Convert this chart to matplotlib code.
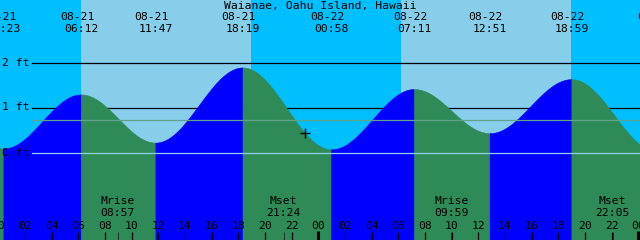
import numpy as np
import matplotlib.pyplot as plt

# tide events: date, time, height (ft)
tide_dates = ["08-20", "08-21", "08-21", "08-21", "08-21", "08-22", "08-22", "08-22", "08-22", "08-23"]
tide_times = ["17:50", "00:23", "06:12", "11:47", "18:19", "00:58", "07:11", "12:51", "18:59", "01:29"]
tide_ft = [1.95, 0.09, 1.29, 0.22, 1.89, 0.07, 1.41, 0.43, 1.63, 0.0]

# sun: daylight spans
sunrise = ["08-21 06:12", "08-22 06:12"]
sunset = ["08-21 18:57", "08-22 18:57"]

# moon events
moon_kind = ["Mrise", "Mset", "Mrise", "Mset"]
moon_dates = ["08-21", "08-21", "08-22", "08-22"]
moon_times = ["08:57", "21:24", "09:59", "22:05"]

now = "08-21 23:00"
datum_levels = [2, 1]
mean_level = 0.72
hour_ticks = list(range(0, 49, 2))
title = "Waianae, Oahu Island, Hawaii"

DAY = "#87CEEB"
NIGHT = "#00BFFF"
RISE = "#0000FF"
FALL = "#2E8B57"
FONT = dict(family="DejaVu Sans Mono", fontsize=8.2, color="black")


def hours(date, time):
    # hours after 08-21 00:00
    day = int(date[-2:]) - 21
    hh, mm = time.split(":")
    return day * 24 + int(hh) + int(mm) / 60


tide_h = [hours(d, t) for d, t in zip(tide_dates, tide_times)]

fig = plt.figure(figsize=(6.4, 2.4), dpi=100, facecolor=NIGHT)
ax = fig.add_axes([0, 0, 1, 1])
x0 = 1.7 / 13.333
ax.set_xlim(x0, x0 + 48)
ax.set_ylim(-87.5 / 45, 152.5 / 45)
ax.axis("off")
xt = ax.get_xaxis_transform()
yt = ax.get_yaxis_transform()


def py(p):
    # pixel row -> axes fraction
    return 1 - p / 240


# night sky over the whole chart, daylight on top
ax.axvspan(x0, x0 + 48, color=NIGHT, lw=0, zorder=0)
for r, s in zip(sunrise, sunset):
    ax.axvspan(hours(*r.split()), hours(*s.split()), color=DAY, lw=0, zorder=0)

# datum lines behind the water
for lev in datum_levels:
    ax.axhline(lev, xmin=32 / 640, color="black", lw=0.9, zorder=1)
    ax.text(2 / 640, lev, f"{lev} ft", transform=yt, ha="left", va="center",
            zorder=5, **FONT)
ax.text(2 / 640, 0, "0 ft", transform=yt, ha="left", va="center", zorder=5, **FONT)

# tide curve, cosine shape between high and low water
bottom = -87.5 / 45
for i in range(len(tide_h) - 1):
    t0, t1 = tide_h[i], tide_h[i + 1]
    h0, h1 = tide_ft[i], tide_ft[i + 1]
    t = np.linspace(t0, t1, 120)
    h = h1 + (h0 - h1) * (1 + np.cos(np.pi * (t - t0) / (t1 - t0))) / 2
    c = RISE if h1 > h0 else FALL
    ax.fill_between(t, h, bottom, color=c, lw=0.4, edgecolor=c, zorder=2)

ax.axhline(0, xmin=32 / 640, color="#8FD0EA", lw=0.9, zorder=3)
ax.axhline(mean_level, xmin=32 / 640, color="#5FA38A", lw=0.9, zorder=3)

# now marker on the curve
tn = hours(*now.split())
k = np.searchsorted(tide_h, tn) - 1
t0, t1, h0, h1 = tide_h[k], tide_h[k + 1], tide_ft[k], tide_ft[k + 1]
hn = h1 + (h0 - h1) * (1 + np.cos(np.pi * (tn - t0) / (t1 - t0))) / 2
ax.plot(tn, hn, marker="+", color="black", ms=6.5, mew=1, zorder=6)

# title and tide event labels
ax.text(0.5, py(6), title, transform=ax.transAxes, ha="center", va="center", **FONT)
for t, d, s in zip(tide_h, tide_dates, tide_times):
    ax.annotate(d, (t, py(17.5)), xycoords=xt, xytext=(-2.9, 0), textcoords="offset points",
                ha="center", va="center", annotation_clip=False, **FONT)
    ax.text(t, py(29.5), s, transform=xt, ha="center", va="center", **FONT)

# hour ticks
for hr in hour_ticks:
    ax.text(hr, py(225.7), f"{hr % 24:02d}", transform=xt, ha="center", va="center",
            zorder=5, **FONT)
    if hr % 24 == 0:
        ax.vlines(hr, 0, py(231), transform=xt, color="black", lw=2.2, zorder=5)
    else:
        ax.vlines(hr, 0, py(232), transform=xt, color="black", lw=0.9, zorder=5)

# moon events
for kind, d, s in zip(moon_kind, moon_dates, moon_times):
    t = hours(d, s)
    ax.text(t, py(201.5), kind, transform=xt, ha="center", va="center", zorder=5, **FONT)
    ax.text(t, py(213.5), s, transform=xt, ha="center", va="center", zorder=5, **FONT)
    ax.vlines(t, 0, py(232), transform=xt, color="#202020", lw=0.6, zorder=5)

fig.savefig("out.png", dpi=100)
